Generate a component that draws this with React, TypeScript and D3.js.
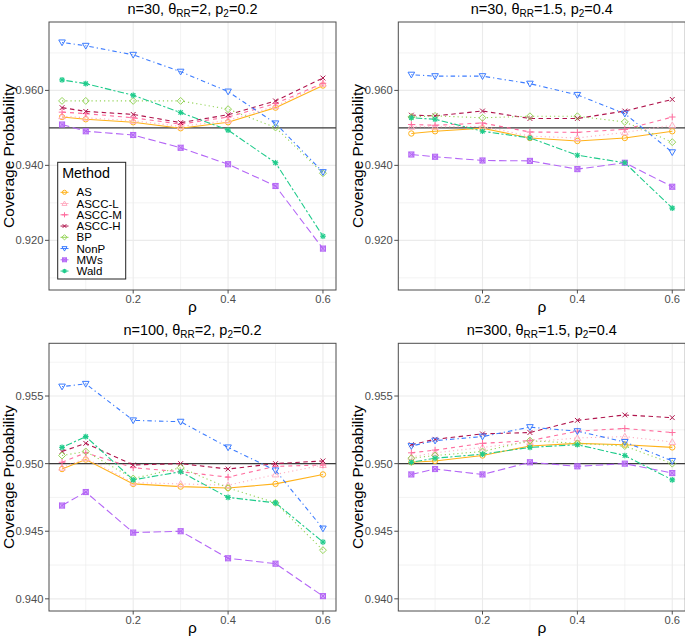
import React from "react";
import * as d3 from "d3";

// ---------- data ----------
const rho = [0.05, 0.1, 0.2, 0.3, 0.4, 0.5, 0.6];
const methods = ["AS", "ASCC-L", "ASCC-M", "ASCC-H", "BP", "NonP", "MWs", "Wald"];
const methodColors = ["#FFB21A", "#FFB0C4", "#FF6D9E", "#B0144C", "#95D459", "#3C7CFF", "#B466F6", "#1FCB8B"];
const methodDash = ["", "1.2,3", "4,4", "4.5,3.5", "1.2,3", "1.2,3,4.5,3", "7.5,3.5", "2.2,2.2,6.5,2.2"];
const methodShapes = ["circle", "triangle", "plus", "cross", "diamond", "triangleDown", "squareCross", "asterisk"];

// panel 1: n=30, thetaRR=2, p2=0.2 (rows in methods order)
const panel1Values = [
  [0.9529, 0.9523, 0.9515, 0.9499, 0.9515, 0.9554, 0.9613], // AS
  [0.9531, 0.9527, 0.9519, 0.9504, 0.9520, 0.9558, 0.9618], // ASCC-L
  [0.9542, 0.9538, 0.9527, 0.9510, 0.9529, 0.9565, 0.9619], // ASCC-M
  [0.9554, 0.9544, 0.9536, 0.9514, 0.9535, 0.9572, 0.9633], // ASCC-H
  [0.9572, 0.9572, 0.9572, 0.9572, 0.9550, 0.9501, 0.9379], // BP
  [0.9728, 0.9719, 0.9695, 0.9650, 0.9597, 0.9512, 0.9382], // NonP
  [0.9509, 0.9491, 0.9481, 0.9447, 0.9403, 0.9345, 0.9178], // MWs
  [0.9628, 0.9618, 0.9587, 0.9541, 0.9494, 0.9407, 0.9211], // Wald
];
// panel 2: n=30, thetaRR=1.5, p2=0.4
const panel2Values = [
  [0.9485, 0.9491, 0.9499, 0.9473, 0.9465, 0.9473, 0.9491],
  [0.9503, 0.9503, 0.9504, 0.9478, 0.9473, 0.9488, 0.9507],
  [0.9509, 0.9507, 0.9513, 0.9489, 0.9488, 0.9496, 0.9529],
  [0.9534, 0.9532, 0.9545, 0.9525, 0.9525, 0.9545, 0.9576],
  [0.9529, 0.9532, 0.9527, 0.9531, 0.9531, 0.9516, 0.9462],
  [0.9642, 0.9638, 0.9638, 0.9618, 0.9588, 0.9538, 0.9435],
  [0.9429, 0.9423, 0.9413, 0.9412, 0.9390, 0.9407, 0.9343],
  [0.9527, 0.9523, 0.9491, 0.9473, 0.9427, 0.9407, 0.9286],
];
// panel 3: n=100, thetaRR=2, p2=0.2
const panel3Values = [
  [0.9496, 0.9503, 0.9485, 0.9483, 0.9482, 0.9485, 0.9492],
  [0.9497, 0.9504, 0.9486, 0.9485, 0.9484, 0.9492, 0.9499],
  [0.9501, 0.9508, 0.9497, 0.9494, 0.9490, 0.9498, 0.9499],
  [0.9509, 0.9515, 0.9499, 0.9500, 0.9496, 0.9500, 0.9502],
  [0.9506, 0.9509, 0.9489, 0.9497, 0.9482, 0.9471, 0.9436],
  [0.9557, 0.9559, 0.9532, 0.9531, 0.9512, 0.9495, 0.9452],
  [0.9469, 0.9479, 0.9449, 0.9450, 0.9430, 0.9426, 0.9402],
  [0.9512, 0.9520, 0.9488, 0.9494, 0.9475, 0.9471, 0.9442],
];
// panel 4: n=300, thetaRR=1.5, p2=0.4
const panel4Values = [
  [0.9501, 0.9502, 0.9506, 0.9513, 0.9515, 0.9514, 0.9512],
  [0.9505, 0.9508, 0.9512, 0.9516, 0.9519, 0.9520, 0.9516],
  [0.9508, 0.9510, 0.9515, 0.9517, 0.9524, 0.9526, 0.9523],
  [0.9514, 0.9518, 0.9522, 0.9523, 0.9532, 0.9536, 0.9534],
  [0.9504, 0.9506, 0.9509, 0.9517, 0.9515, 0.9513, 0.9500],
  [0.9513, 0.9517, 0.9520, 0.9527, 0.9524, 0.9516, 0.9502],
  [0.9492, 0.9496, 0.9492, 0.9501, 0.9498, 0.9500, 0.9493],
  [0.9501, 0.9504, 0.9507, 0.9512, 0.9514, 0.9506, 0.9488],
];

const xTicks = [0.2, 0.4, 0.6];
const xMinor = [0.1, 0.3, 0.5];
const topYLimits = [0.91, 0.975];
const topYTicks = [0.92, 0.94, 0.96];
const topYMinor = [0.91, 0.93, 0.95, 0.97];
const bottomYLimits = [0.94, 0.958];
const bottomYTicks = [0.94, 0.945, 0.95, 0.955];
const bottomYMinor = [0.9425, 0.9475, 0.9525, 0.9575];
const titles = [
  { n: "30", rr: "2", p2: "0.2" },
  { n: "30", rr: "1.5", p2: "0.4" },
  { n: "100", rr: "2", p2: "0.2" },
  { n: "300", rr: "1.5", p2: "0.4" },
];
const reference = 0.95;

// ---------- layout ----------
const W = 685;
const H = 638;
const FONT = "'Liberation Sans', Arial, Helvetica, sans-serif";

function expand(lim: number[]) {
  const d = (lim[1] - lim[0]) * 0.05;
  return [lim[0] - d, lim[1] + d];
}

function Shape({ shape, x, y, s, color }: { shape: string; x: number; y: number; s: number; color: string }) {
  const sw = 1;
  const common = { fill: "none", stroke: color, strokeWidth: sw };
  switch (shape) {
    case "circle":
      return <circle cx={x} cy={y} r={s * 0.9} {...common} />;
    case "triangle": {
      const h = s * 1.1;
      return <polygon points={`${x},${y - h} ${x - h},${y + h * 0.75} ${x + h},${y + h * 0.75}`} {...common} />;
    }
    case "triangleDown": {
      const h = s * 1.1;
      return <polygon points={`${x},${y + h} ${x - h},${y - h * 0.75} ${x + h},${y - h * 0.75}`} {...common} />;
    }
    case "plus":
      return (
        <g {...common}>
          <line x1={x - s * 1.1} y1={y} x2={x + s * 1.1} y2={y} />
          <line x1={x} y1={y - s * 1.1} x2={x} y2={y + s * 1.1} />
        </g>
      );
    case "cross":
      return (
        <g {...common}>
          <line x1={x - s * 0.8} y1={y - s * 0.8} x2={x + s * 0.8} y2={y + s * 0.8} />
          <line x1={x - s * 0.8} y1={y + s * 0.8} x2={x + s * 0.8} y2={y - s * 0.8} />
        </g>
      );
    case "diamond": {
      const h = s * 1.15;
      return <polygon points={`${x},${y - h} ${x + h},${y} ${x},${y + h} ${x - h},${y}`} {...common} />;
    }
    case "squareCross": {
      const h = s * 0.85;
      return (
        <g {...common}>
          <rect x={x - h} y={y - h} width={2 * h} height={2 * h} fill={color} fillOpacity={0.55} />
          <line x1={x - h} y1={y - h} x2={x + h} y2={y + h} />
          <line x1={x - h} y1={y + h} x2={x + h} y2={y - h} />
        </g>
      );
    }
    case "asterisk": {
      const h = s * 0.95;
      return (
        <g {...common} strokeWidth={1.2}>
          <line x1={x - h} y1={y} x2={x + h} y2={y} />
          <line x1={x} y1={y - h} x2={x} y2={y + h} />
          <line x1={x - h * 0.75} y1={y - h * 0.75} x2={x + h * 0.75} y2={y + h * 0.75} />
          <line x1={x - h * 0.75} y1={y + h * 0.75} x2={x + h * 0.75} y2={y - h * 0.75} />
        </g>
      );
    }
  }
  return null;
}

type PanelProps = {
  x0: number; x1: number; y0: number; y1: number;
  yLimits: number[]; yTicks: number[]; yMinor: number[];
  values: number[][];
  title: { n: string; rr: string; p2: string };
  legend?: boolean;
};

function Panel({ x0, x1, y0, y1, yLimits, yTicks, yMinor, values, title, legend }: PanelProps) {
  const xs = d3.scaleLinear().domain(expand([rho[0], rho[rho.length - 1]])).range([x0, x1]);
  const ys = d3.scaleLinear().domain(expand(yLimits)).range([y1, y0]);
  const fmt = d3.format(".3f");
  const line = d3
    .line<number>()
    .x((_, i) => xs(rho[i]))
    .y((d) => ys(d));
  const cx = (x0 + x1) / 2;
  const cy = (y0 + y1) / 2;
  const grid = "#EBEBEB";
  const clipId = `clip-${Math.round(x0)}-${Math.round(y0)}`;
  return (
    <g>
      <defs>
        <clipPath id={clipId}>
          <rect x={x0} y={y0} width={x1 - x0} height={y1 - y0} />
        </clipPath>
      </defs>
      <rect x={x0} y={y0} width={x1 - x0} height={y1 - y0} fill="#fff" />
      {xMinor.map((t) => (
        <line key={"xm" + t} x1={xs(t)} x2={xs(t)} y1={y0} y2={y1} stroke={grid} strokeWidth={0.6} />
      ))}
      {yMinor.map((t) => (
        <line key={"ym" + t} x1={x0} x2={x1} y1={ys(t)} y2={ys(t)} stroke={grid} strokeWidth={0.6} />
      ))}
      {xTicks.map((t) => (
        <line key={"xg" + t} x1={xs(t)} x2={xs(t)} y1={y0} y2={y1} stroke={grid} strokeWidth={1.1} />
      ))}
      {yTicks.map((t) => (
        <line key={"yg" + t} x1={x0} x2={x1} y1={ys(t)} y2={ys(t)} stroke={grid} strokeWidth={1.1} />
      ))}
      <line x1={x0} x2={x1} y1={ys(reference)} y2={ys(reference)} stroke="#3a3a3a" strokeWidth={1.1} />
      <g clipPath={`url(#${clipId})`}>
        {values.map((v, m) => (
          <path
            key={"l" + m}
            d={line(v) || ""}
            fill="none"
            stroke={methodColors[m]}
            strokeWidth={1.1}
            strokeDasharray={methodDash[m] || undefined}
          />
        ))}
        {values.map((v, m) =>
          v.map((d, i) => (
            <Shape key={`p${m}-${i}`} shape={methodShapes[m]} x={xs(rho[i])} y={ys(d)} s={3} color={methodColors[m]} />
          ))
        )}
      </g>
      <rect x={x0} y={y0} width={x1 - x0} height={y1 - y0} fill="none" stroke="#4d4d4d" strokeWidth={1} />
      {xTicks.map((t) => (
        <g key={"xt" + t}>
          <line x1={xs(t)} x2={xs(t)} y1={y1} y2={y1 + 3.5} stroke="#4d4d4d" strokeWidth={1} />
          <text x={xs(t)} y={y1 + 12.5} textAnchor="middle" fontSize={11.2} fill="#4d4d4d" fontFamily={FONT}>
            {t.toFixed(1)}
          </text>
        </g>
      ))}
      {yTicks.map((t) => (
        <g key={"yt" + t}>
          <line x1={x0 - 4} x2={x0} y1={ys(t)} y2={ys(t)} stroke="#4d4d4d" strokeWidth={1} />
          <text x={x0 - 5.5} y={ys(t) + 4} textAnchor="end" fontSize={11.2} fill="#4d4d4d" fontFamily={FONT}>
            {fmt(t)}
          </text>
        </g>
      ))}
      <text x={cx} y={y1 + 22} textAnchor="middle" fontSize={15.5} fill="#000" fontFamily={FONT}>
        ρ
      </text>
      <text
        transform={`translate(${x0 - 35},${cy}) rotate(-90)`}
        textAnchor="middle"
        fontSize={15.5}
        fill="#000"
        fontFamily={FONT}
      >
        Coverage Probability
      </text>
      <text x={cx} y={y0 - 8.5} textAnchor="middle" fontSize={14.5} fill="#000" fontFamily={FONT}>
        <tspan>{`n=${title.n}, θ`}</tspan>
        <tspan fontSize={10} dy={3.5}>RR</tspan>
        <tspan dy={-3.5}>{`=${title.rr}, p`}</tspan>
        <tspan fontSize={10} dy={3.5}>2</tspan>
        <tspan dy={-3.5}>{`=${title.p2}`}</tspan>
      </text>
      {legend && <Legend />}
    </g>
  );
}

function Legend() {
  const lx = 57.7;
  const ly = 162.3;
  const lw = 68;
  const lh = 116.7;
  const itemY0 = 192.3;
  const step = 11.25;
  return (
    <g>
      <rect x={lx} y={ly} width={lw} height={lh} fill="#fff" stroke="#222" strokeWidth={1} />
      <text x={lx + 4.5} y={ly + 15.5} fontSize={14.3} fill="#000" fontFamily={FONT}>
        Method
      </text>
      {methods.map((m, i) => {
        const y = itemY0 + i * step;
        return (
          <g key={m}>
            <line x1={60.5} x2={68.5} y1={y} y2={y} stroke={methodColors[i]} strokeWidth={1} />
            <Shape shape={methodShapes[i]} x={64.5} y={y} s={2.3} color={methodColors[i]} />
            <text x={76.5} y={y + 4} fontSize={11.5} fill="#000" fontFamily={FONT}>
              {m}
            </text>
          </g>
        );
      })}
    </g>
  );
}

export default function App() {
  const leftX0 = 49;
  const rightX0 = 398.3;
  const pw = 287;
  const topY0 = 22;
  const topY1 = 290;
  const botY0 = 343.3;
  const botY1 = 611;
  return (
    <svg
      width={W}
      height={H}
      viewBox={`0 0 ${W} ${H}`}
      style={{ position: "absolute", left: 0, top: 0, background: "#fff" }}
    >
      <rect x={0} y={0} width={W} height={H} fill="#fff" />
      <Panel x0={leftX0} x1={leftX0 + pw} y0={topY0} y1={topY1} yLimits={topYLimits} yTicks={topYTicks} yMinor={topYMinor} values={panel1Values} title={titles[0]} legend />
      <Panel x0={rightX0} x1={rightX0 + pw} y0={topY0} y1={topY1} yLimits={topYLimits} yTicks={topYTicks} yMinor={topYMinor} values={panel2Values} title={titles[1]} />
      <Panel x0={leftX0} x1={leftX0 + pw} y0={botY0} y1={botY1} yLimits={bottomYLimits} yTicks={bottomYTicks} yMinor={bottomYMinor} values={panel3Values} title={titles[2]} />
      <Panel x0={rightX0} x1={rightX0 + pw} y0={botY0} y1={botY1} yLimits={bottomYLimits} yTicks={bottomYTicks} yMinor={bottomYMinor} values={panel4Values} title={titles[3]} />
    </svg>
  );
}
